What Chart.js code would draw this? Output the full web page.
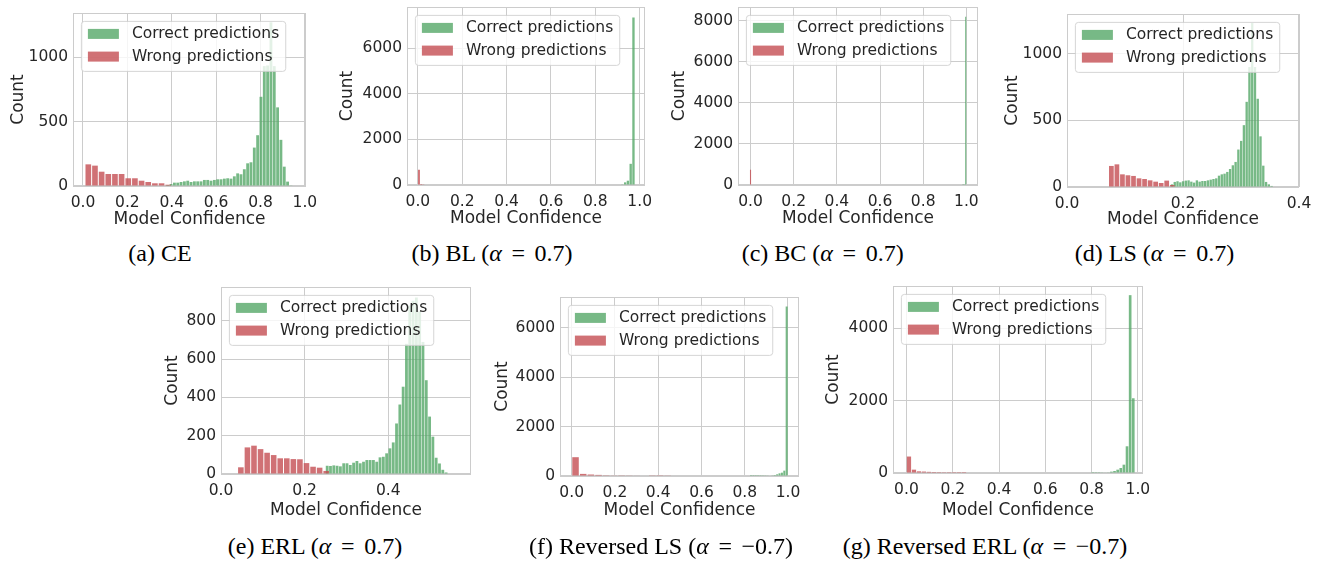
<!DOCTYPE html>
<html>
<head>
<meta charset="utf-8">
<script src="https://cdn.jsdelivr.net/npm/chart.js@4.4.1/dist/chart.umd.min.js"></script>
<style>
  body { margin: 0; background: #fff; width: 1325px; height: 561px; position: relative; overflow: hidden; }
  .panel { position: absolute; }
  .cap {
    position: absolute; white-space: nowrap; transform: translate(-50%, -50%);
    font-family: "Liberation Serif", "Times New Roman", serif; font-size: 24px; color: #000;
  }
  .cap .op { margin: 0 0.4em; }
</style>
</head>
<body>
<script>
// histogram counts (first bin centre, bin width, counts)
const seriesLabels = ["Correct predictions", "Wrong predictions"];

const aGreenStart = 0.382, aGreenWidth = 0.015;
const aGreen = [8, 15, 26, 26, 31, 36, 41, 31, 36, 36, 36, 47, 47, 41, 47, 52, 52, 57, 60, 57, 75, 98, 91, 130, 176, 184, 298, 394, 692, 930, 935, 1270, 930, 610, 358, 150, 34, 5];
const aRedStart = 0.024, aRedWidth = 0.030;
const aRed = [168, 158, 111, 93, 93, 93, 60, 60, 41, 31, 21, 21, 10];

const bGreenStart = 0.922, bGreenWidth = 0.0125;
const bGreen = [30, 116, 189, 928, 7340];
const bRedStart = 0.005, bRedWidth = 0.01;
const bRed = [670, 45, 12];

const cGreenStart = 0.985, cGreenWidth = 0.006;
const cGreen = [6, 12, 8200];
const cRedStart = 0.0, cRedWidth = 0.006;
const cRed = [745, 0];

const dGreenStart = 0.181, dGreenWidth = 0.00477;
const dGreen = [20, 38, 43, 35, 43, 48, 50, 40, 33, 50, 40, 45, 45, 50, 55, 60, 65, 85, 95, 100, 113, 135, 163, 188, 281, 346, 464, 639, 900, 1230, 900, 662, 380, 160, 38, 20, 8];
const dRedStart = 0.0765, dRedWidth = 0.00954;
const dRed = [158, 170, 95, 88, 83, 65, 60, 50, 40, 30, 48, 15];

const eGreenStart = 0.254, eGreenWidth = 0.0079;
const eGreen = [43, 42, 45, 43, 40, 56, 56, 47, 59, 68, 56, 64, 73, 73, 73, 64, 87, 90, 108, 134, 165, 264, 363, 456, 680, 880, 905, 922, 850, 690, 490, 300, 195, 85, 55, 22, 8];
const eRedStart = 0.0475, eRedWidth = 0.0157;
const eRed = [35, 139, 148, 130, 111, 99, 82, 82, 78, 77, 57, 38, 33, 16];

const fGreenStart = 0.829, fGreenWidth = 0.011;
const fGreen = [3, 4, 5, 6, 8, 10, 12, 15, 20, 27, 40, 68, 108, 135, 216, 6850];
const fRedStart = 0.0178, fRedWidth = 0.0355;
const fRed = [760, 85, 60, 45, 30, 25, 28, 25, 22, 20, 12, 10, 15];

const gGreenStart = 0.8045, gGreenWidth = 0.0135;
const gGreen = [3, 5, 6, 9, 12, 18, 37, 55, 92, 138, 230, 738, 4914, 2065];
const gRedStart = 0.011, gRedWidth = 0.0216;
const gRed = [455, 92, 46, 40, 32, 28, 25, 5, 4, 3, 3, 2];

// tick values
const xTicksFull = [0, 0.2, 0.4, 0.6, 0.8, 1.0];
const xTicksShort = [0, 0.2, 0.4];
const yTicksA = [0, 500, 1000];
const yTicksB = [0, 2000, 4000, 6000];
const yTicksC = [0, 2000, 4000, 6000, 8000];
const yTicksD = [0, 500, 1000];
const yTicksE = [0, 200, 400, 600, 800];
const yTicksF = [0, 2000, 4000, 6000];
const yTicksG = [0, 2000, 4000];

const EQ = '<span class="op">=</span>';
const captions = [
  "(a) CE",
  "(b) BL (<i>α</i>" + EQ + "0.7)",
  "(c) BC (<i>α</i>" + EQ + "0.7)",
  "(d) LS (<i>α</i>" + EQ + "0.7)",
  "(e) ERL (<i>α</i>" + EQ + "0.7)",
  "(f) Reversed LS (<i>α</i>" + EQ + "−0.7)",
  "(g) Reversed ERL (<i>α</i>" + EQ + "−0.7)",
];

// placement of each subplot on the page
const panels = [
  { green: [aGreenStart, aGreenWidth, aGreen], red: [aRedStart, aRedWidth, aRed], x: [-0.045, 1.005], yMax: 1342,
    xTicks: xTicksFull, yTicks: yTicksA, frame: [73.3, 13.3, 306, 186], titleX: 15.3, titleY: 217, cap: [160, 253] },
  { green: [bGreenStart, bGreenWidth, bGreen], red: [bRedStart, bRedWidth, bRed], x: [-0.049, 1.024], yMax: 7800,
    xTicks: xTicksFull, yTicks: yTicksB, frame: [406.7, 6.7, 645.3, 185.3], titleX: 345, titleY: 216.7, cap: [492, 253] },
  { green: [cGreenStart, cGreenWidth, cGreen], red: [cRedStart, cRedWidth, cRed], x: [-0.058, 1.054], yMax: 8670,
    xTicks: xTicksFull, yTicks: yTicksC, frame: [737.7, 6.7, 978.3, 185.3], titleX: 677, titleY: 216.7, cap: [822.7, 253] },
  { green: [dGreenStart, dGreenWidth, dGreen], red: [dRedStart, dRedWidth, dRed], x: [0, 0.4], yMax: 1298,
    xTicks: xTicksShort, yTicks: yTicksD, frame: [1067.3, 14, 1299.3, 186.7], titleX: 1010, titleY: 217.3, cap: [1154.5, 253] },
  { green: [eGreenStart, eGreenWidth, eGreen], red: [eRedStart, eRedWidth, eRed], x: [0, 0.598], yMax: 977,
    xTicks: xTicksShort, yTicks: yTicksE, frame: [220.7, 286.7, 470.7, 474], titleX: 169.3, titleY: 508.3, cap: [315, 546] },
  { green: [fGreenStart, fGreenWidth, fGreen], red: [fRedStart, fRedWidth, fRed], x: [-0.054, 1.051], yMax: 7235,
    xTicks: xTicksFull, yTicks: yTicksF, frame: [560, 297.3, 799.3, 476], titleX: 500, titleY: 508.3, cap: [661, 546] },
  { green: [gGreenStart, gGreenWidth, gGreen], red: [gRedStart, gRedWidth, gRed], x: [-0.058, 1.022], yMax: 5167,
    xTicks: xTicksFull, yTicks: yTicksG, frame: [893.3, 286, 1143.3, 473.3], titleX: 830.7, titleY: 508.3, cap: [985, 546] },
];

const GREEN = "rgba(85, 168, 104, 0.8)";
const RED = "rgba(196, 78, 82, 0.8)";
const GRID = "#cccccc";
const INK = "#262626";
const FONT = "'DejaVu Sans', sans-serif";

Chart.defaults.font.family = FONT;
Chart.defaults.color = INK;

function toPoints(start, width, counts) {
  return counts.map((c, i) => ({ x: start + width * i, y: c }));
}

// grey frame round the plot area
const framePlugin = {
  id: "frame",
  beforeDatasetsDraw(chart) {
    const { ctx, chartArea: a } = chart;
    ctx.save();
    ctx.strokeStyle = GRID;
    ctx.lineWidth = 1;
    ctx.strokeRect(Math.round(a.left) + 0.5, Math.round(a.top) + 0.5,
      Math.round(a.right) - Math.round(a.left) - 1, Math.round(a.bottom) - Math.round(a.top) - 1);
    ctx.restore();
  },
};

// matplotlib-like legend box in the upper left corner
const boxLegend = {
  id: "boxLegend",
  afterDatasetsDraw(chart) {
    const { ctx, chartArea } = chart;
    const fs = 15.5;
    ctx.save();
    ctx.font = fs + "px " + FONT;
    const ds = chart.data.datasets;
    const tw = Math.max(...ds.map((d) => ctx.measureText(d.label).width));
    const x = chartArea.left + 8.4, y = chartArea.top + 8.4;
    const w = 6.5 + 31 + 13 + tw + 6.5, h = 50;
    ctx.beginPath();
    if (ctx.roundRect) ctx.roundRect(x, y, w, h, 3);
    else ctx.rect(x, y, w, h);
    ctx.fillStyle = "rgba(255,255,255,0.8)";
    ctx.fill();
    ctx.strokeStyle = "rgba(204,204,204,0.8)";
    ctx.lineWidth = 1;
    ctx.stroke();
    ds.forEach((d, i) => {
      const cy = y + 12.5 + i * 22.7;
      ctx.fillStyle = d.backgroundColor;
      ctx.fillRect(x + 6.5, cy - 5, 31, 10);
      ctx.fillStyle = INK;
      ctx.textBaseline = "middle";
      ctx.fillText(d.label, x + 6.5 + 31 + 13, cy);
    });
    ctx.restore();
  },
};

panels.forEach((p, k) => {
  const [fl, ft, fr, fb] = p.frame.map(Math.round);
  const padTop = 16, padRight = 22;
  // title glyphs sit a little off the em-box centre, nudge accordingly
  const left = Math.round(p.titleX - 10.2 + 2.5);
  const bottom = Math.round(p.titleY + 10.2 + 2.5);
  const yW = fl - left;
  const xH = bottom - fb;
  const top = ft - padTop;

  const div = document.createElement("div");
  div.className = "panel";
  div.style.left = left + "px";
  div.style.top = top + "px";
  div.style.width = (yW + (fr - fl) + padRight) + "px";
  div.style.height = (bottom - top) + "px";
  const canvas = document.createElement("canvas");
  div.appendChild(canvas);
  document.body.appendChild(div);

  new Chart(canvas, {
    type: "bar",
    data: {
      datasets: [
        {
          label: seriesLabels[0],
          data: toPoints(...p.green),
          backgroundColor: GREEN,
          xAxisID: "x",
          order: 1,
        },
        {
          label: seriesLabels[1],
          data: toPoints(...p.red),
          backgroundColor: RED,
          xAxisID: "x2",
          order: 0,
        },
      ],
    },
    options: {
      responsive: true,
      maintainAspectRatio: false,
      animation: false,
      events: [],
      layout: { padding: { top: padTop, right: padRight, left: 0, bottom: 0 } },
      datasets: { bar: { barPercentage: 0.85, categoryPercentage: 1, grouped: false, borderWidth: 0 } },
      plugins: { legend: { display: false }, tooltip: { enabled: false } },
      scales: {
        x: {
          type: "linear",
          min: p.x[0],
          max: p.x[1],
          offset: false,
          grid: { color: GRID, offset: false, drawTicks: false },
          border: { display: false },
          ticks: {
            padding: 8,
            maxRotation: 0,
            autoSkip: false,
            font: { size: 15.5 },
            callback: (v) => v.toFixed(1),
          },
          afterBuildTicks: (s) => { s.ticks = p.xTicks.map((v) => ({ value: v })); },
          title: { display: true, text: "Model Confidence", font: { size: 17 }, padding: 0 },
          afterFit: (s) => { s.height = xH; },
        },
        x2: {
          type: "linear",
          min: p.x[0],
          max: p.x[1],
          offset: false,
          display: false,
        },
        y: {
          type: "linear",
          min: 0,
          max: p.yMax,
          grid: { color: GRID, drawTicks: false },
          border: { display: false },
          ticks: {
            padding: 5,
            font: { size: 15.5 },
            callback: (v) => String(v),
          },
          afterBuildTicks: (s) => { s.ticks = p.yTicks.map((v) => ({ value: v })); },
          title: { display: true, text: "Count", font: { size: 17 }, padding: 0 },
          afterFit: (s) => { s.width = yW; },
        },
      },
    },
    plugins: [framePlugin, boxLegend],
  });

  const cap = document.createElement("div");
  cap.className = "cap";
  cap.innerHTML = captions[k];
  cap.style.left = p.cap[0] + "px";
  cap.style.top = p.cap[1] + "px";
  document.body.appendChild(cap);
});
</script>
</body>
</html>
